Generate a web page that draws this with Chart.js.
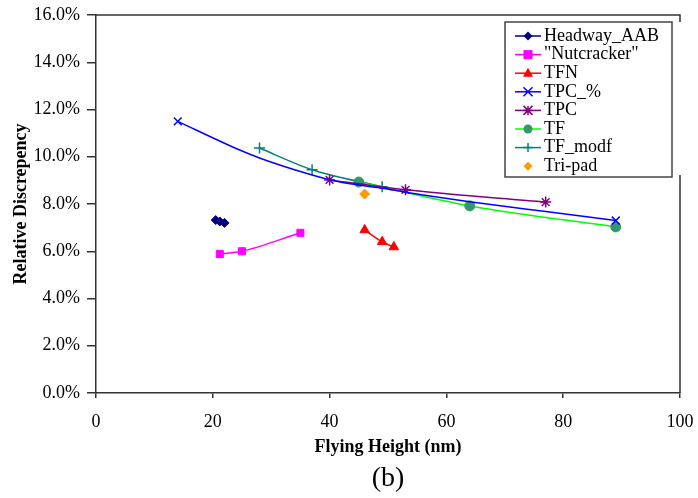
<!DOCTYPE html>
<html lang="en">
<head>
  <meta charset="UTF-8">
  <title>Relative Discrepency vs Flying Height</title>
  <script src="https://cdn.jsdelivr.net/npm/chart.js"></script>
  <style>
    html, body { margin: 0; padding: 0; background: #fff; }
    #wrap { width: 698px; height: 498px; }
  </style>
</head>
<body>
  <div id="wrap"><canvas id="chart" width="698" height="498"></canvas></div>
  <script>
    // data (x = flying height in nm, y = relative discrepency in %)
    const headwayX = [20.5, 21.2, 22.0];
    const headwayY = [7.32, 7.26, 7.20];
    const nutX = [21.2, 25.0, 35.0];
    const nutY = [5.88, 6.00, 6.78];
    const tfnX = [46.0, 49.0, 51.0];
    const tfnY = [6.90, 6.40, 6.18];
    const tpcPctX = [14, 24, 28, 36, 40, 45, 49, 53, 64, 77, 89];
    const tpcPctY = [11.5, 10.35, 9.95, 9.3, 9.03, 8.8, 8.67, 8.5, 8.1, 7.68, 7.3];
    const tpcX = [40, 53, 77];
    const tpcY = [9.02, 8.60, 8.08];
    const tfX = [45, 64, 89];
    const tfY = [8.93, 7.92, 7.03];
    const tfModX = [28, 37, 49];
    const tfModY = [10.37, 9.45, 8.73];
    const triPadX = [46];
    const triPadY = [8.42];

    const xTicks = [0, 20, 40, 60, 80, 100];
    const yTicks = [0, 2, 4, 6, 8, 10, 12, 14, 16];

    const FONT = "'Liberation Serif', 'Times New Roman', serif";

    function pts(xs, ys) {
      return xs.map((x, i) => ({ x: x, y: ys[i] }));
    }

    // end markers only on TPC_%
    const tpcPctRadius = tpcPctX.map((x, i) => (i === 0 || i === tpcPctX.length - 1) ? 5.5 : 0);

    const datasets = [
      { label: "Headway_AAB", data: pts(headwayX, headwayY), borderColor: "#000080",
        pointBackgroundColor: "#000080", pointBorderColor: "#000080", pointStyle: "rectRot", pointRadius: 4.5 },
      { label: "\"Nutcracker\"", data: pts(nutX, nutY), borderColor: "#FF00FF",
        pointBackgroundColor: "#FF00FF", pointBorderColor: "#FF00FF", pointStyle: "rect", pointRadius: 5 },
      { label: "TFN", data: pts(tfnX, tfnY), borderColor: "#FF0000",
        pointBackgroundColor: "#FF0000", pointBorderColor: "#FF0000", pointStyle: "triangle", pointRadius: 5.5 },
      { label: "TPC_%", data: pts(tpcPctX, tpcPctY), borderColor: "#0000FF",
        pointBackgroundColor: "#0000FF", pointBorderColor: "#0000FF", pointStyle: "crossRot", pointRadius: tpcPctRadius, pointBorderWidth: 1.5 },
      { label: "TPC", data: pts(tpcX, tpcY), borderColor: "#800080",
        pointBackgroundColor: "#800080", pointBorderColor: "#800080", pointStyle: "star", pointRadius: 5.5, pointBorderWidth: 1.5 },
      { label: "TF", data: pts(tfX, tfY), borderColor: "#00FF00",
        pointBackgroundColor: "#339966", pointBorderColor: "#339966", pointStyle: "circle", pointRadius: 5 },
      { label: "TF_modf", data: pts(tfModX, tfModY), borderColor: "#008080",
        pointBackgroundColor: "#008080", pointBorderColor: "#008080", pointStyle: "cross", pointRadius: 5.5, pointBorderWidth: 1.5 },
      { label: "Tri-pad", data: pts(triPadX, triPadY), borderColor: "#FF9900", showLine: false,
        pointBackgroundColor: "#FF9900", pointBorderColor: "#FF9900", pointStyle: "rectRot", pointRadius: 5 }
    ];
    datasets.forEach(d => {
      d.borderWidth = 1.5;
      d.fill = false;
      d.cubicInterpolationMode = "monotone";
      if (d.pointBorderWidth === undefined) d.pointBorderWidth = 1;
    });

    // simple marker drawing for the legend
    function drawMarker(ctx, ds, x, y) {
      const r = 4.5;
      ctx.save();
      ctx.fillStyle = ds.pointBackgroundColor;
      ctx.strokeStyle = ds.pointBorderColor;
      ctx.lineWidth = 1.5;
      ctx.beginPath();
      switch (ds.pointStyle) {
        case "rectRot":
          ctx.moveTo(x, y - r); ctx.lineTo(x + r, y); ctx.lineTo(x, y + r); ctx.lineTo(x - r, y); ctx.closePath(); ctx.fill(); break;
        case "rect":
          ctx.rect(x - r, y - r, 2 * r, 2 * r); ctx.fill(); break;
        case "triangle":
          ctx.moveTo(x, y - r - 1); ctx.lineTo(x + r + 0.5, y + r - 1); ctx.lineTo(x - r - 0.5, y + r - 1); ctx.closePath(); ctx.fill(); break;
        case "circle":
          ctx.arc(x, y, r, 0, Math.PI * 2); ctx.fill(); break;
        case "crossRot":
          ctx.moveTo(x - r, y - r); ctx.lineTo(x + r, y + r); ctx.moveTo(x + r, y - r); ctx.lineTo(x - r, y + r); ctx.stroke(); break;
        case "cross":
          ctx.moveTo(x - r, y); ctx.lineTo(x + r, y); ctx.moveTo(x, y - r); ctx.lineTo(x, y + r); ctx.stroke(); break;
        case "star":
          ctx.moveTo(x - r, y - r); ctx.lineTo(x + r, y + r); ctx.moveTo(x + r, y - r); ctx.lineTo(x - r, y + r);
          ctx.moveTo(x - r, y); ctx.lineTo(x + r, y); ctx.moveTo(x, y - r); ctx.lineTo(x, y + r); ctx.stroke(); break;
      }
      ctx.restore();
    }

    // legend box, frame and titles
    const extras = {
      id: "extras",
      afterDraw(chart) {
        const ctx = chart.ctx;
        const a = chart.chartArea;
        ctx.save();
        ctx.strokeStyle = "#333";
        ctx.lineWidth = 1.5;
        ctx.beginPath();
        ctx.moveTo(a.left, a.top); ctx.lineTo(a.right, a.top); ctx.lineTo(a.right, a.top + 7);
        ctx.moveTo(a.right, 175); ctx.lineTo(a.right, a.bottom);
        ctx.stroke();

        // legend
        const lx = 505, ly = 22, lw = 167, lh = 155;
        ctx.fillStyle = "#fff";
        ctx.fillRect(lx, ly, lw, lh);
        ctx.strokeStyle = "#444";
        ctx.lineWidth = 1.5;
        ctx.strokeRect(lx, ly, lw, lh);
        ctx.font = "18px " + FONT;
        ctx.textBaseline = "middle";
        ctx.textAlign = "left";
        chart.data.datasets.forEach((ds, i) => {
          const y = 36 + i * 18.6;
          if (ds.showLine !== false) {
            ctx.strokeStyle = ds.borderColor;
            ctx.lineWidth = 1.5;
            ctx.beginPath();
            ctx.moveTo(515, y); ctx.lineTo(541, y);
            ctx.stroke();
          }
          drawMarker(ctx, ds, 528, y);
          ctx.fillStyle = "#000";
          ctx.fillText(ds.label, 544, y);
        });

        // axis titles and caption
        ctx.fillStyle = "#000";
        ctx.textAlign = "center";
        ctx.font = "bold 18px " + FONT;
        ctx.fillText("Flying Height (nm)", (a.left + a.right) / 2, 447);
        ctx.save();
        ctx.translate(21, (a.top + a.bottom) / 2);
        ctx.rotate(-Math.PI / 2);
        ctx.fillText("Relative Discrepency", 0, 0);
        ctx.restore();
        ctx.font = "28px " + FONT;
        ctx.fillText("(b)", (a.left + a.right) / 2, 479);
        ctx.restore();
      }
    };

    Chart.defaults.font.family = FONT;
    Chart.defaults.font.size = 18;
    Chart.defaults.color = "#000";

    new Chart(document.getElementById("chart").getContext("2d"), {
      type: "line",
      data: { datasets: datasets },
      plugins: [extras],
      options: {
        responsive: false,
        animation: false,
        layout: { padding: { top: 15, right: 18, left: 0, bottom: 0 } },
        plugins: { legend: { display: false }, tooltip: { enabled: false } },
        scales: {
          x: {
            type: "linear",
            min: xTicks[0],
            max: xTicks[xTicks.length - 1],
            afterBuildTicks: s => { s.ticks = xTicks.map(v => ({ value: v })); },
            afterFit: s => { s.height = 105; s.paddingLeft = 0; s.paddingRight = 0; },
            grid: { drawOnChartArea: false, color: "#333", tickLength: 5, lineWidth: 1.5 },
            border: { color: "#333", width: 1.5 },
            ticks: { padding: 13, maxRotation: 0 }
          },
          y: {
            type: "linear",
            min: yTicks[0],
            max: yTicks[yTicks.length - 1],
            afterBuildTicks: s => { s.ticks = yTicks.map(v => ({ value: v })); },
            afterFit: s => { s.width = 96; s.paddingTop = 0; s.paddingBottom = 0; },
            grid: { drawOnChartArea: false, color: "#333", tickLength: 9, lineWidth: 1.5 },
            border: { color: "#333", width: 1.5 },
            ticks: { padding: 7, callback: v => v.toFixed(1) + "%" }
          }
        }
      }
    });
  </script>
</body>
</html>
